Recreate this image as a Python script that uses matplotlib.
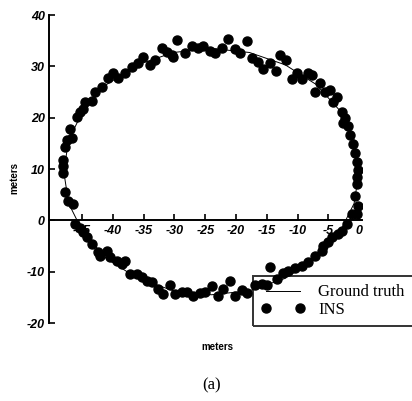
import matplotlib.pyplot as plt
import numpy as np

plt.rcParams['axes.unicode_minus'] = False

# INS estimates (meters)
ins_x = [-48.1, -48.1, -47.8, -47.5, -46.7, -47.0, -45.9, -45.4, -44.9, -44.6,
         -43.4, -42.9, -41.8, -40.8, -40.0, -39.2, -38.0, -36.9, -35.9, -35.1,
         -34.0, -33.2, -32.0, -31.2, -30.4, -29.6,
         -30.2, -28.3, -27.2, -26.2, -25.4, -24.2, -23.4, -22.3, -21.3, -20.2,
         -19.3, -18.2, -17.4, -16.4, -15.6, -14.5, -13.5, -12.8, -11.9, -10.9,
         -10.1, -9.3, -8.3, -7.6, -7.2, -6.3, -5.5, -4.7, -3.6, -4.2, -2.8, -2.3,
         -2.6, -1.8, -1.5, -1.0, -0.7, -0.3, -0.2, -0.3, -0.3, -0.7, -0.2, -0.3,
         -1.1, -2.0, -2.8, -3.4,
         -4.4, -5.0, -5.9, -6.0, -7.2, -8.3, -9.3, -10.4, -11.5, -12.4, -13.3,
         -14.5, -15.0, -15.8, -16.9, -18.2, -19.0, -20.2, -21.0, -22.1, -22.9,
         -23.9, -25.0, -25.9, -27.0, -28.0, -28.8, -29.9, -30.7, -31.9, -32.7,
         -33.7, -34.5, -35.3, -36.1, -37.2, -38.0, -38.5, -39.3, -40.5, -41.0,
         -42.1, -42.4, -43.4, -44.2, -44.9, -45.4, -46.2, -46.5, -47.3, -47.8,
         -48.1]
ins_y = [10.5, 11.8, 14.2, 15.7, 16.1, 17.7, 20.2, 21.2, 21.6, 23.1,
         23.3, 25.1, 26.0, 27.8, 28.7, 27.8, 28.7, 29.9, 30.7, 31.8,
         30.3, 31.3, 33.6, 32.8, 32.2, 35.2,
         31.8, 32.6, 34.0, 33.6, 34.0, 33.0, 32.6, 33.6, 35.3, 33.4,
         32.6, 35.0, 31.7, 30.9, 29.5, 30.7, 29.1, 32.2, 31.3, 27.6,
         28.7, 27.6, 28.7, 28.4, 25.1, 26.8, 25.1, 25.4, 24.1, 23.1, 21.2, 20.0,
         19.0, 18.3, 16.7, 14.8, 13.2, 11.3, 9.9, 8.5, 7.0, 4.7, 2.7, 1.2,
         1.2, -0.8, -2.1, -2.7,
         -3.3, -4.3, -5.0, -6.0, -7.0, -8.2, -8.9, -9.3, -9.9, -10.3, -11.5,
         -9.1, -12.6, -12.4, -12.6, -14.2, -13.6, -14.8, -11.8, -13.4, -14.8,
         -12.8, -14.0, -14.2, -14.8, -14.0, -14.0, -14.4, -12.6, -14.4, -13.4,
         -12.0, -11.8, -11.1, -10.5, -10.5, -8.0, -8.5, -8.0, -7.2, -6.0,
         -7.0, -6.2, -4.7, -3.3, -2.3, -1.4, -0.8, 3.1, 3.7, 5.6,
         9.3]

# ground truth path (meters)
gt_x = [0.0, -0.8, -3.2, -7.0, -12.0, -17.8, -24.0, -30.2, -36.0, -41.0, -44.8,
        -47.2, -48.0, -47.2, -44.8, -41.0, -36.0, -30.2, -24.0, -17.8, -12.0,
        -7.0, -3.2, -0.8, 0.0]
gt_y = [9.5, 15.7, 21.5, 26.5, 30.3, 32.7, 33.5, 32.7, 30.3, 26.5, 21.5,
        15.7, 9.5, 3.3, -2.5, -7.5, -11.3, -13.7, -14.5, -13.7, -11.3,
        -7.5, -2.5, 3.3, 9.5]

x_ticks = [-45, -40, -35, -30, -25, -20, -15, -10, -5, 0]
y_ticks = [-20, -10, 0, 10, 20, 30, 40]

fig = plt.figure(figsize=(4.12, 4.01), dpi=100)
ax = fig.add_axes([0.1189, 0.1945, 0.760, 0.768])

gt_line, = ax.plot(gt_x, gt_y, color='black', linewidth=0.7, label='Ground truth', zorder=2)
ins_pts, = ax.plot(ins_x, ins_y, linestyle='none', marker='o', markersize=6.5,
                   color='black', label='INS', zorder=3)

ax.set_xlim(-50.4, 0.5)
ax.set_ylim(-20, 40)
ax.spines['top'].set_visible(False)
ax.spines['right'].set_visible(False)
ax.spines['bottom'].set_position(('data', 0))
ax.spines['left'].set_linewidth(1.4)
ax.spines['bottom'].set_linewidth(1.4)

ax.set_xticks(x_ticks)
ax.set_yticks(y_ticks)
ax.tick_params(direction='in', length=4, width=1.2, labelsize=9, pad=3)
for lab in ax.get_xticklabels() + ax.get_yticklabels():
    lab.set_fontweight('bold')
    lab.set_fontstyle('italic')
    lab.set_fontfamily('Liberation Sans')

ax.set_ylabel('meters', fontsize=7, fontweight='bold', family='Liberation Sans')
ax.yaxis.set_label_coords(-0.096, 0.471)
fig.text(0.527, 0.135, 'meters', fontsize=7, fontweight='bold',
         family='Liberation Sans', ha='center', va='center')
fig.text(0.514, 0.040, '(a)', fontsize=12, family='Liberation Serif',
         ha='center', va='center')

leg = fig.legend(handles=[gt_line, ins_pts], loc='upper left',
                 bbox_to_anchor=(253 / 412, 66 / 401, 0.45, 59 / 401),
                 mode='expand', numpoints=2, handlelength=2.6, handletextpad=0.8,
                 fancybox=False, edgecolor='black',
                 prop={'family': 'Liberation Serif', 'size': 12},
                 borderpad=0.5, labelspacing=0.1, borderaxespad=0)
leg.get_frame().set_facecolor('none')
leg.get_frame().set_linewidth(1.4)

fig.savefig('out.png', dpi=100)
